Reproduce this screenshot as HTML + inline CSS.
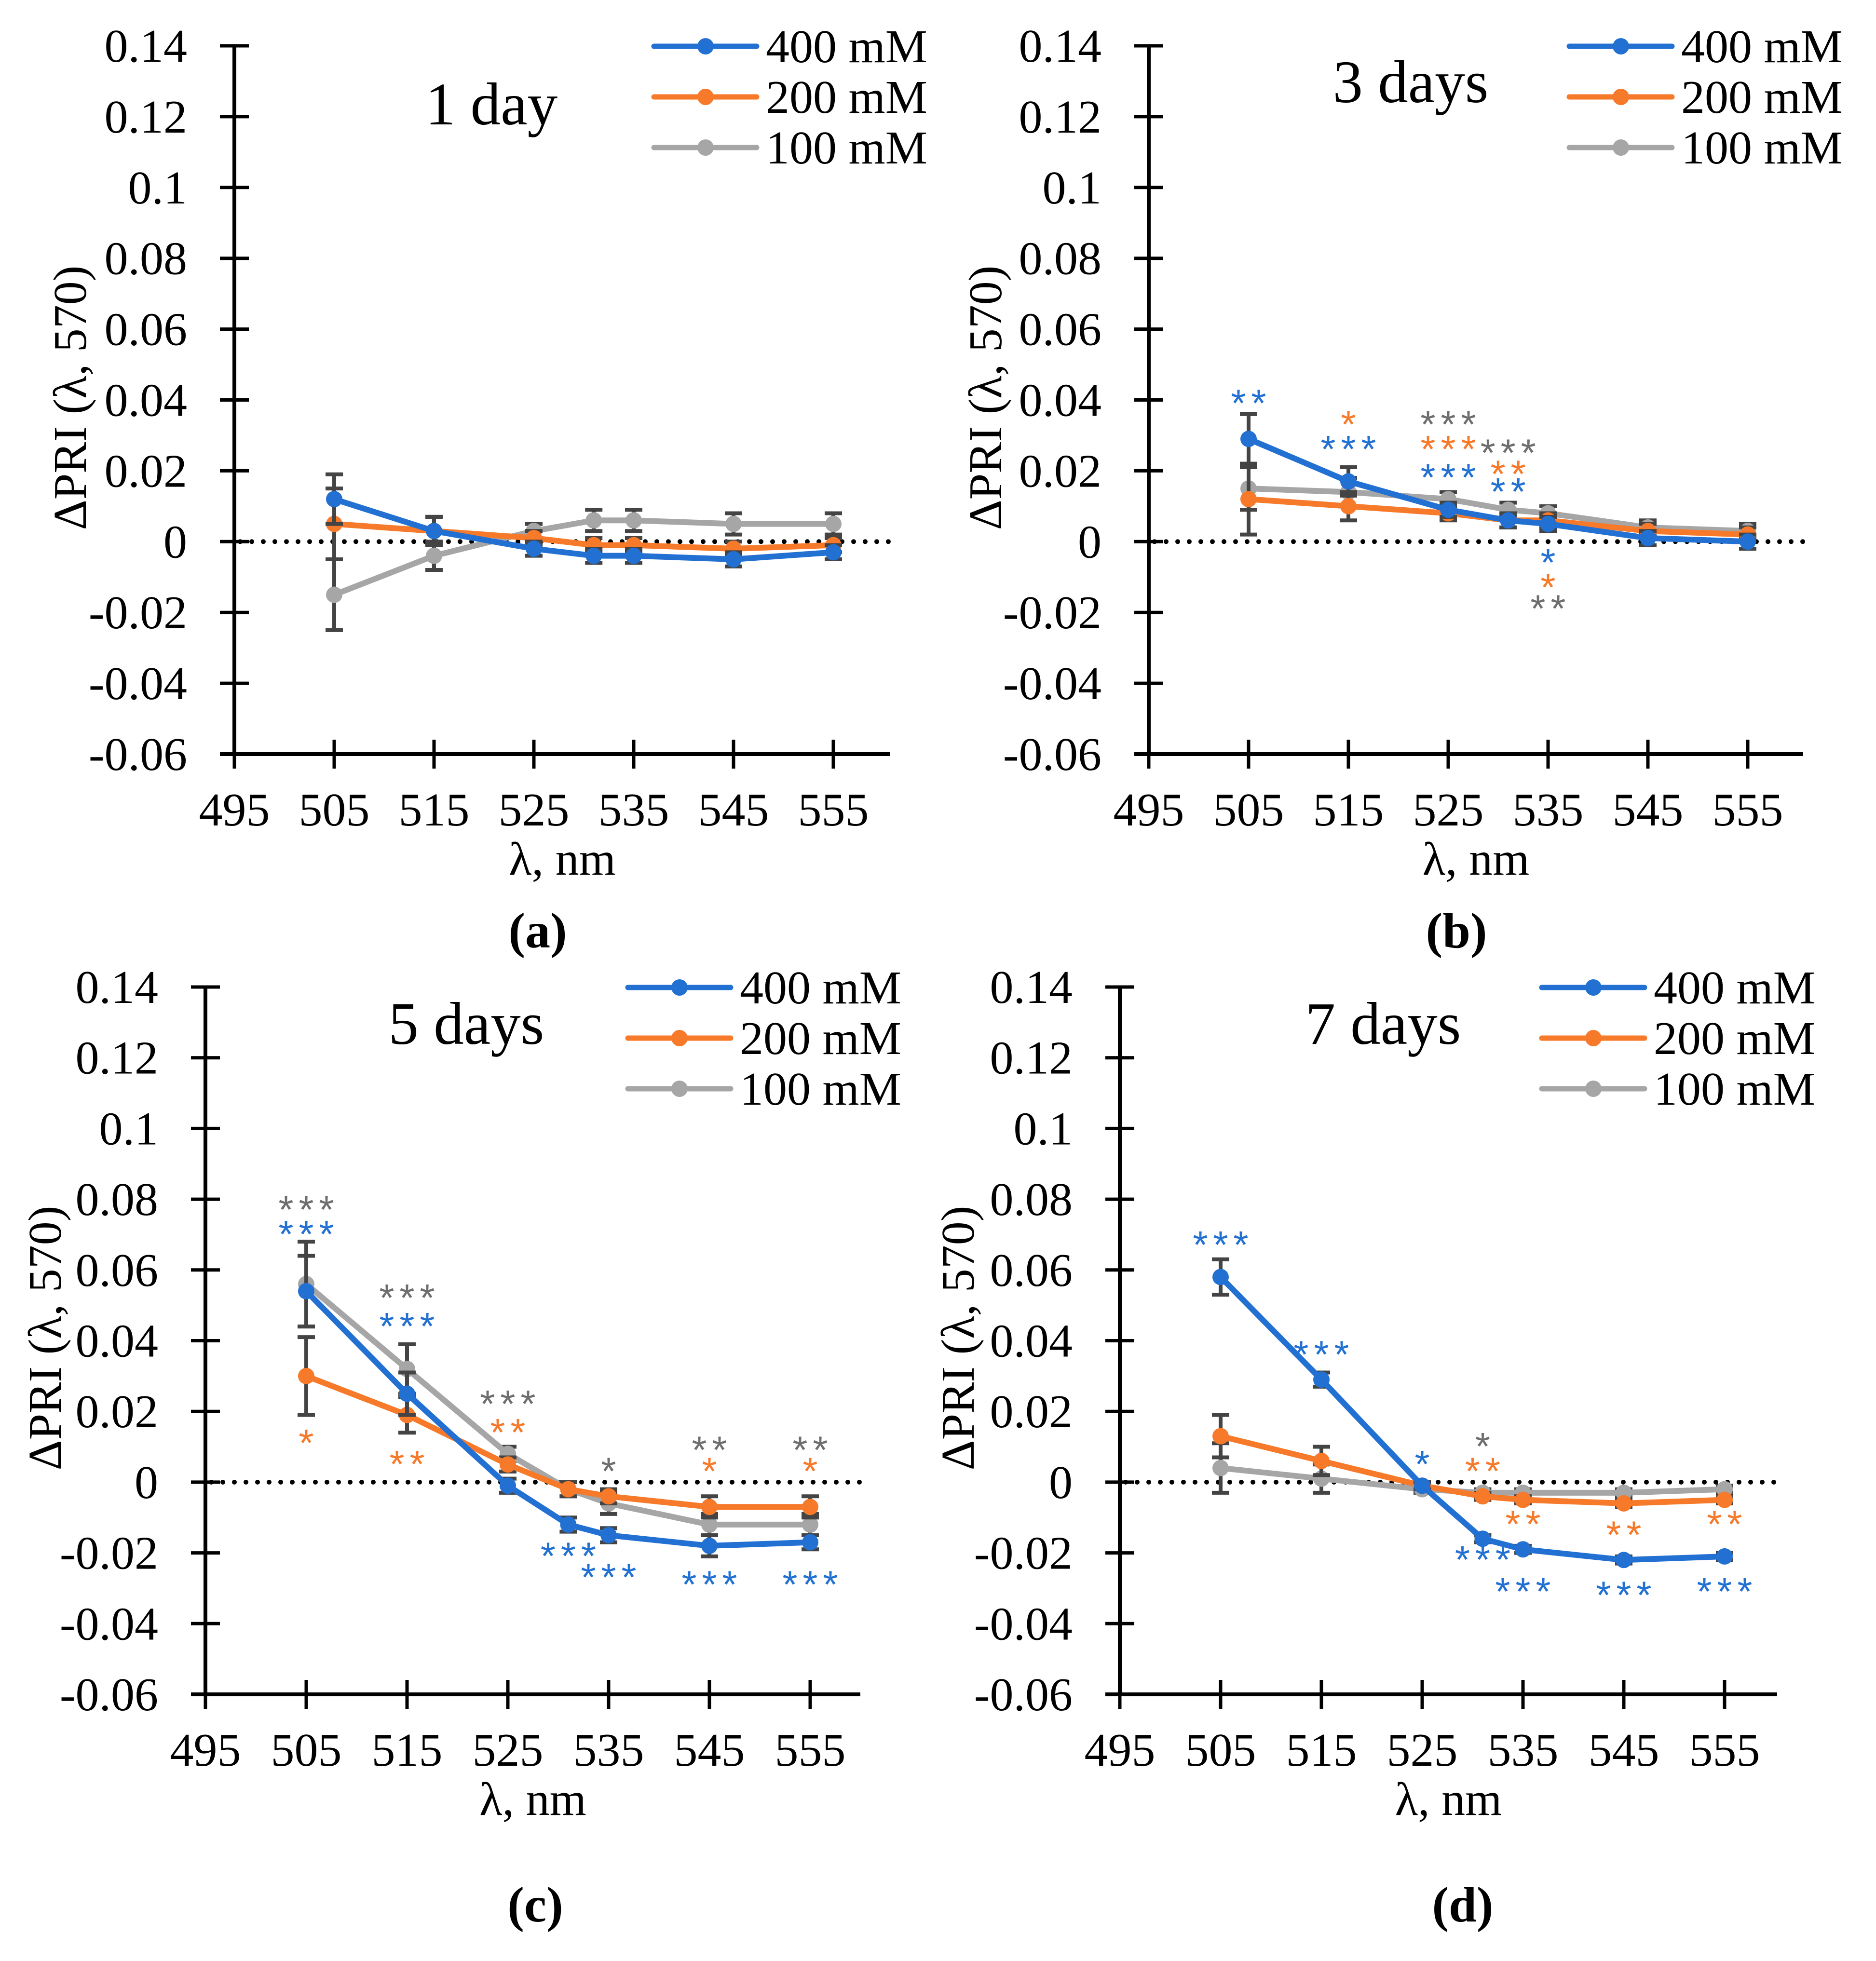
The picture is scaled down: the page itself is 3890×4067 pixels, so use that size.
<!DOCTYPE html>
<html><head><meta charset="utf-8"><style>
html,body{margin:0;padding:0;background:#fff}
svg{display:block}
</style></head><body>
<svg id="fig" width="3890" height="4067" viewBox="0 0 3890 4067" xmlns="http://www.w3.org/2000/svg" font-family="Liberation Serif, serif"></svg>
<script>
const xCats=[505,515,525,531,535,545,555];
const xTicks=[495,505,515,525,535,545,555];
const yTicks=[0.14,0.12,0.1,0.08,0.06,0.04,0.02,0,-0.02,-0.04,-0.06];
const yTickLabels=["0.14","0.12","0.1","0.08","0.06","0.04","0.02","0","-0.02","-0.04","-0.06"];
const seriesNames=["400 mM","200 mM","100 mM"];
// panel a
const a400=[0.012,0.003,-0.002,-0.004,-0.004,-0.005,-0.003];
const a200=[0.005,0.003,0.001,-0.001,-0.001,-0.002,-0.001];
const a100=[-0.015,-0.004,0.003,0.006,0.006,0.005,0.005];
const a400e=[0.007,0.004,0.002,0.002,0.002,0.002,0.002];
const a200e=[0.010,0.004,0.002,0.002,0.002,0.002,0.002];
const a100e=[0.010,0.004,0.002,0.003,0.003,0.003,0.003];
// panel b
const b400=[0.029,0.017,0.009,0.006,0.005,0.001,0.000];
const b200=[0.012,0.010,0.008,0.006,0.006,0.003,0.002];
const b100=[0.015,0.014,0.012,0.009,0.008,0.004,0.003];
const b400e=[0.007,0.004,0.002,0.002,0.002,0.002,0.002];
const b200e=[0.010,0.004,0.002,0.002,0.002,0.002,0.002];
const b100e=[0.006,0.004,0.002,0.002,0.002,0.002,0.002];
// panel c
const c400=[0.054,0.025,-0.001,-0.012,-0.015,-0.018,-0.017];
const c200=[0.030,0.019,0.005,-0.002,-0.004,-0.007,-0.007];
const c100=[0.056,0.032,0.008,-0.002,-0.006,-0.012,-0.012];
const c400e=[0.010,0.006,0.002,0.002,0.002,0.003,0.002];
const c200e=[0.011,0.005,0.002,0.002,0.002,0.003,0.003];
const c100e=[0.012,0.007,0.002,0.002,0.003,0.003,0.003];
// panel d
const d400=[0.058,0.029,-0.001,-0.016,-0.019,-0.022,-0.021];
const d200=[0.013,0.006,-0.001,-0.004,-0.005,-0.006,-0.005];
const d100=[0.004,0.001,-0.002,-0.003,-0.003,-0.003,-0.002];
const d400e=[0.005,0.002,0.001,0.001,0.001,0.001,0.001];
const d200e=[0.006,0.004,0.001,0.001,0.001,0.001,0.001];
const d100e=[0.007,0.004,0.001,0.001,0.001,0.001,0.001];
// significance annotations: [x, y, count, seriesIndex]
const bStars=[[505,0.040,2,0],[515,0.034,1,1],[515,0.027,3,0],[525,0.034,3,2],[525,0.027,3,1],[525,0.019,3,0],[531,0.026,3,2],[531,0.020,2,1],[531,0.015,2,0],[535,-0.005,1,0],[535,-0.012,1,1],[535,-0.018,2,2]];
const cStars=[[505,0.078,3,2],[505,0.071,3,0],[505,0.012,1,1],[515,0.053,3,2],[515,0.045,3,0],[515,0.006,2,1],[525,0.023,3,2],[525,0.015,2,1],[531,-0.020,3,0],[535,0.004,1,2],[535,-0.026,3,0],[545,0.010,2,2],[545,0.004,1,1],[545,-0.028,3,0],[555,0.010,2,2],[555,0.004,1,1],[555,-0.028,3,0]];
const dStars=[[505,0.068,3,0],[515,0.037,3,0],[525,0.006,1,0],[531,0.011,1,2],[531,0.004,2,1],[531,-0.021,3,0],[535,-0.011,2,1],[535,-0.030,3,0],[545,-0.014,2,1],[545,-0.031,3,0],[555,-0.011,2,1],[555,-0.030,3,0]];
const aStars=[];

const colors=["#2270d2","#f7792a","#a6a6a6"];
const starColors=["#2270d2","#f7792a","#6e6e6e"];
const svg=document.getElementById('fig');
const NS="http://www.w3.org/2000/svg";
function mk(tag,attrs,parent){const e=document.createElementNS(NS,tag);for(const k in attrs)e.setAttribute(k,attrs[k]);(parent||svg).appendChild(e);return e;}

const panels=[
 {id:'a',ax:486,top:95,bot:1564,px10:207,xend:1846,title:'1 day',tx:1019,ty:258,lx:1356,ly:96,ytx:146,yty:825,lab:'(a)',labx:1115,laby:1965,s:[a400,a200,a100],e:[a400e,a200e,a100e],st:aStars},
 {id:'b',ax:2382,top:95,bot:1564,px10:207,xend:3739,title:'3 days',tx:2925,ty:212,lx:3254,ly:96,ytx:2044,yty:825,lab:'(b)',labx:3020,laby:1965,s:[b400,b200,b100],e:[b400e,b200e,b100e],st:bStars},
 {id:'c',ax:426,top:2047,bot:3514,px10:209,xend:1784,title:'5 days',tx:967,ty:2165,lx:1302,ly:2048,ytx:94,yty:2775,lab:'(c)',labx:1110,laby:3985,s:[c400,c200,c100],e:[c400e,c200e,c100e],st:cStars},
 {id:'d',ax:2322,top:2047,bot:3514,px10:209,xend:3685,title:'7 days',tx:2868,ty:2165,lx:3197,ly:2048,ytx:1987,yty:2775,lab:'(d)',labx:3033,laby:3985,s:[d400,d200,d100],e:[d400e,d200e,d100e],st:dStars}
];

panels.forEach(p=>{
 const g=mk('g',{});
 
 
 const X=v=>p.ax+(v-495)/10*p.px10;
 const Y=v=>p.top+(0.14-v)/0.2*(p.bot-p.top);
 const ya=mk('line',{x1:p.ax,y1:p.top,x2:p.ax,y2:p.bot,stroke:'#000','stroke-width':8},g);
 
 
 const xa=mk('line',{x1:p.ax-30,y1:p.bot,x2:p.xend,y2:p.bot,stroke:'#000','stroke-width':8},g);
 
 
 yTicks.forEach((v,i)=>{
  mk('line',{x1:p.ax-30,y1:Y(v),x2:p.ax+30,y2:Y(v),stroke:'#000','stroke-width':7},g);
  const t=mk('text',{x:p.ax-98,y:Y(v)+33,'text-anchor':'end','font-size':98,fill:'#000'},g);
  t.textContent=yTickLabels[i];
  
  
 });
 xTicks.forEach(v=>{
  mk('line',{x1:X(v),y1:p.bot-30,x2:X(v),y2:p.bot+30,stroke:'#000','stroke-width':7},g);
  const t=mk('text',{x:X(v),y:p.bot+148,'text-anchor':'middle','font-size':98,fill:'#000'},g);
  t.textContent=String(v);
  
  
 });
 const z=mk('line',{x1:p.ax+12,y1:Y(0),x2:p.xend,y2:Y(0),stroke:'#000','stroke-width':10,'stroke-dasharray':'0 24','stroke-linecap':'round'},g);
 
 
 [2,1,0].forEach(si=>{
  const vals=p.s[si], errs=p.e[si];
  const sg=mk('g',{},g);
  
  
  vals.forEach((v,i)=>{
   const x=X(xCats[i]);
   const eb=mk('path',{d:`M${x},${Y(v+errs[i])}V${Y(v-errs[i])}M${x-18},${Y(v+errs[i])}H${x+18}M${x-18},${Y(v-errs[i])}H${x+18}`,stroke:'#444','stroke-width':8,fill:'none'},sg);
   
   
  });
  const pts=vals.map((v,i)=>X(xCats[i])+','+Y(v)).join(' ');
  const pl=mk('polyline',{points:pts,fill:'none',stroke:colors[si],'stroke-width':12,'stroke-linejoin':'round'},sg);
  
  
  vals.forEach((v,i)=>{
   const c=mk('circle',{cx:X(xCats[i]),cy:Y(v),r:17,fill:colors[si]},sg);
   
   
  });
 });
 p.st.forEach(s=>{
  const [xv,yv,n,si]=s;
  for(let k=0;k<n;k++){
   const t=mk('text',{x:X(xv)+(k-(n-1)/2)*42,y:Y(yv)+34,'text-anchor':'middle','font-size':80,'font-family':'Liberation Sans, sans-serif',fill:starColors[si]},g);
   t.textContent='*';
   
   
  }
 });
 const tt=mk('text',{x:p.tx,y:p.ty,'text-anchor':'middle','font-size':125,fill:'#000'},g);
 tt.textContent=p.title;
 
 
 const xt=mk('text',{x:(p.ax+p.xend)/2,y:p.bot+250,'text-anchor':'middle','font-size':98,fill:'#000'},g);
 xt.textContent='λ, nm';
 
 
 const yt=mk('text',{x:p.ytx,y:p.yty,'text-anchor':'middle','font-size':98,fill:'#000',transform:`rotate(-90 ${p.ytx} ${p.yty})`,'dominant-baseline':'central'},g);
 yt.textContent='ΔPRI (λ, 570)';
 
 
 seriesNames.forEach((nm,si)=>{
  const ly=p.ly+si*105;
  const lg=mk('g',{},g);
  
  
  mk('line',{x1:p.lx,y1:ly,x2:p.lx+213,y2:ly,stroke:colors[si],'stroke-width':11,'stroke-linecap':'round'},lg);
  mk('circle',{cx:p.lx+107,cy:ly,r:17,fill:colors[si]},lg);
  const t=mk('text',{x:p.lx+232,y:ly+33,'font-size':98,fill:'#000'},lg);
  t.textContent=nm;
 });
 const pl=mk('text',{x:p.labx,y:p.laby,'text-anchor':'middle','font-size':104,'font-weight':'bold',fill:'#000'},g);
 pl.textContent=p.lab;
 
 
});
</script>
</body></html>
